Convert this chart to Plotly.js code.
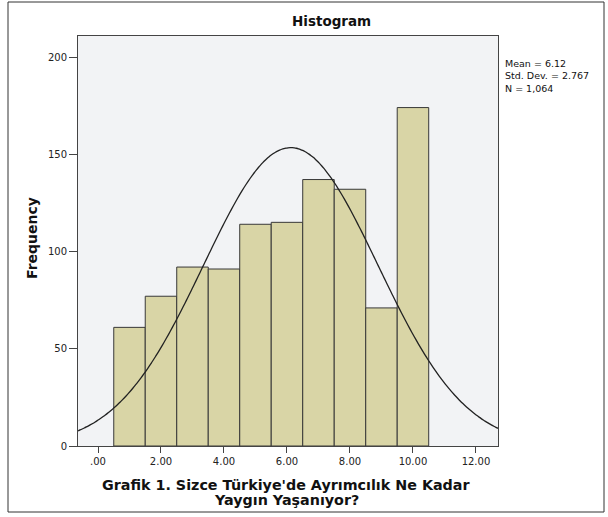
<!DOCTYPE html>
<html>
<head>
<meta charset="utf-8">
<script src="https://cdn.plot.ly/plotly-3.0.1.min.js"></script>
<style>html,body{margin:0;padding:0;background:#fff;}#chart{width:608px;height:517px;}</style>
</head>
<body>
<div id="chart"></div>
<script>
// Data
const binCenters = [1, 2, 3, 4, 5, 6, 7, 8, 9, 10];
const frequencies = [61, 77, 92, 91, 114, 115, 137, 132, 71, 174];
const xTickVals = [0, 2, 4, 6, 8, 10, 12];
const xTickText = ['.00', '2.00', '4.00', '6.00', '8.00', '10.00', '12.00'];
const yTickVals = [0, 50, 100, 150, 200];
const statMean = [6.12];
const statSD = [2.767];
const statN = [1064];
const xTitleLines = ["Grafik 1. Sizce Türkiye'de Ayrımcılık Ne Kadar", "Yaygın Yaşanıyor?"];

// Normal curve defined by the reported mean / sd / N (bin width 1)
const xMin = -0.635, xMax = 12.7;
const curveX = [], curveY = [];
for (let i = 0; i <= 200; i++) {
  const x = xMin + (xMax - xMin) * i / 200;
  const z = (x - statMean[0]) / statSD[0];
  curveX.push(x);
  curveY.push(statN[0] * 1 / (statSD[0] * Math.sqrt(2 * Math.PI)) * Math.exp(-0.5 * z * z));
}

const font = 'DejaVu Sans, Liberation Sans, sans-serif';
const L = 78, R = 498, T = 36, B = 446;
const px = v => (v - L) / (R - L);
const py = v => (B - v) / (B - T);

const data = [
  {
    type: 'bar', x: binCenters, y: frequencies, width: 1,
    marker: {color: '#d9d5a6', line: {color: '#383838', width: 1}},
    hoverinfo: 'x+y', showlegend: false
  },
  {
    type: 'scatter', mode: 'lines', x: curveX, y: curveY,
    line: {color: '#222222', width: 1.3, shape: 'spline'},
    hoverinfo: 'skip', showlegend: false
  }
];

const layout = {
  width: 608, height: 517,
  margin: {l: L, r: 608 - R, t: T, b: 517 - B, pad: 0},
  paper_bgcolor: '#ffffff', plot_bgcolor: '#f2f3f5',
  font: {family: font, size: 10, color: '#222'},
  bargap: 0,
  xaxis: {
    range: [xMin, xMax], tickmode: 'array', tickvals: xTickVals, ticktext: xTickText,
    ticks: 'outside', ticklen: 6, tickcolor: '#444', tickwidth: 1,
    showline: true, linecolor: '#444', linewidth: 1, mirror: true,
    showgrid: false, zeroline: false,
    tickfont: {family: font, size: 10, color: '#222'}
  },
  yaxis: {
    range: [0, 210.8], tickmode: 'array', tickvals: yTickVals,
    ticks: 'outside', ticklen: 8, tickcolor: '#444', tickwidth: 1,
    showline: true, linecolor: '#444', linewidth: 1, mirror: true,
    showgrid: false, zeroline: false,
    tickfont: {family: font, size: 10, color: '#222'}
  },
  annotations: [
    {text: '<b>Histogram</b>', xref: 'paper', yref: 'paper', x: px(331), y: py(21),
     xanchor: 'center', yanchor: 'middle', showarrow: false, font: {family: font, size: 13.5, color: '#111'}},
    {text: '<b>Frequency</b>', xref: 'paper', yref: 'paper', x: px(32), y: py(238),
     xanchor: 'center', yanchor: 'middle', textangle: -90, showarrow: false,
     font: {family: font, size: 14, color: '#111'}},
    {text: '<b>' + xTitleLines[0] + '</b>',
     xref: 'paper', yref: 'paper', x: px(286), y: py(485), xanchor: 'center', yanchor: 'middle',
     showarrow: false, font: {family: font, size: 14.3, color: '#111'}},
    {text: '<b>' + xTitleLines[1] + '</b>',
     xref: 'paper', yref: 'paper', x: px(286), y: py(500), xanchor: 'center', yanchor: 'middle',
     showarrow: false, font: {family: font, size: 14.3, color: '#111'}},
    {text: 'Mean = ' + statMean[0].toFixed(2) + '<br>Std. Dev. = ' + statSD[0].toFixed(3) +
            '<br>N = ' + statN[0].toLocaleString('en-US'),
     xref: 'paper', yref: 'paper', x: px(503), y: py(56), xanchor: 'left', yanchor: 'top',
     align: 'left', showarrow: false, font: {family: font, size: 9.5, color: '#111'}}
  ],
  shapes: [
    {type: 'rect', xref: 'paper', yref: 'paper', x0: px(8), x1: px(604), y0: py(512), y1: py(2),
     line: {color: '#333', width: 1}, fillcolor: 'rgba(0,0,0,0)', layer: 'below'}
  ]
};

Plotly.newPlot('chart', data, layout, {displayModeBar: false, staticPlot: true});
</script>
</body>
</html>
